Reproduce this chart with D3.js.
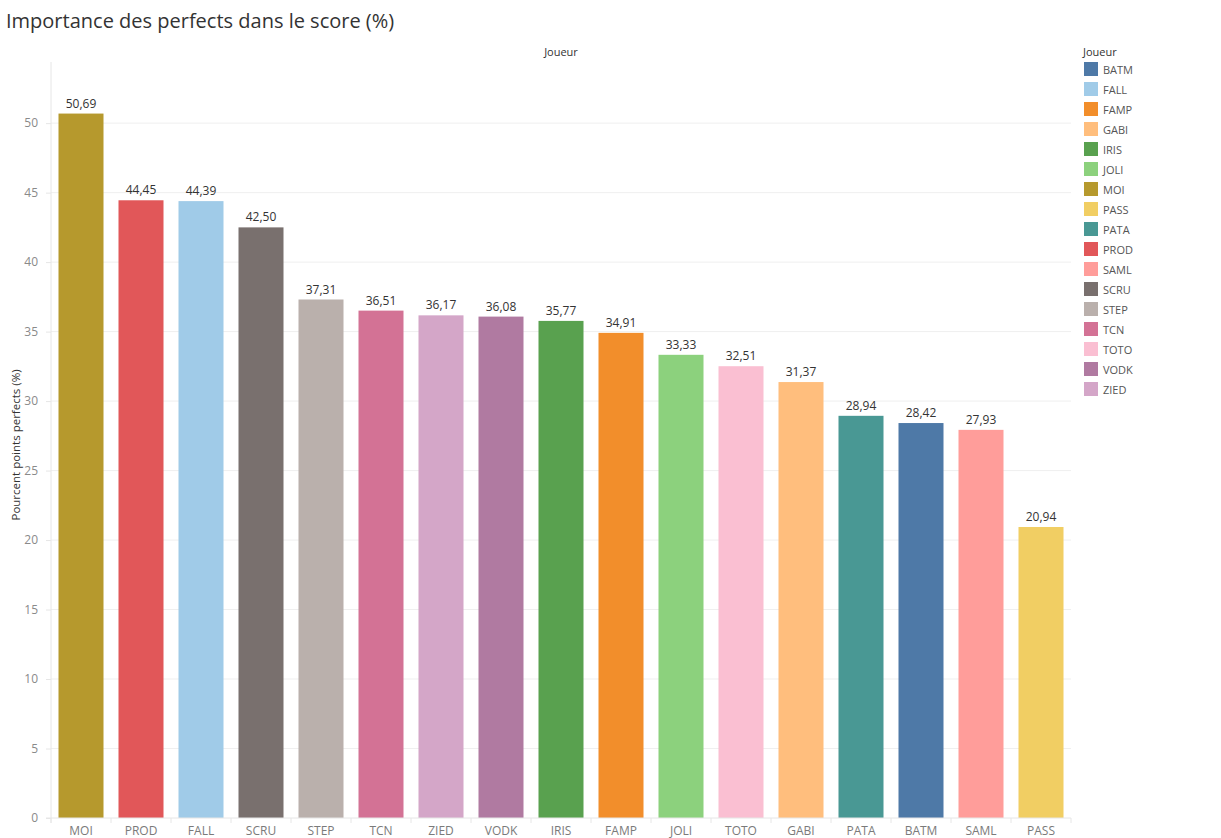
<!DOCTYPE html>
<html>
<head>
<meta charset="utf-8">
<script src="https://cdn.jsdelivr.net/npm/d3@7"></script>
<style>
  body { margin: 0; background: #fff; font-family: "Open Sans", "Noto Sans", sans-serif; }
  svg text { font-family: "Open Sans", "Noto Sans", sans-serif; }
</style>
</head>
<body>
<svg id="chart" width="1221" height="838"></svg>
<script>
// players, sorted as in the chart
const players = ['MOI', 'PROD', 'FALL', 'SCRU', 'STEP', 'TCN', 'ZIED', 'VODK', 'IRIS',
  'FAMP', 'JOLI', 'TOTO', 'GABI', 'PATA', 'BATM', 'SAML', 'PASS'];
const values = [50.69, 44.45, 44.39, 42.50, 37.31, 36.51, 36.17, 36.08, 35.77,
  34.91, 33.33, 32.51, 31.37, 28.94, 28.42, 27.93, 20.94];
const legendNames = ['BATM', 'FALL', 'FAMP', 'GABI', 'IRIS', 'JOLI', 'MOI', 'PASS', 'PATA',
  'PROD', 'SAML', 'SCRU', 'STEP', 'TCN', 'TOTO', 'VODK', 'ZIED'];
const legendColors = ['#4e79a7', '#a0cbe8', '#f28e2b', '#ffbe7d', '#59a14f', '#8cd17d', '#b6992d',
  '#f1ce63', '#499894', '#e15759', '#ff9d9a', '#79706e', '#bab0ac', '#d37295', '#fabfd2',
  '#b07aa1', '#d4a6c8'];
const yTicks = [0, 5, 10, 15, 20, 25, 30, 35, 40, 45, 50];

const data = players.map((p, i) => ({ player: p, value: values[i] }));

const svg = d3.select('#chart');
const margin = { left: 51, right: 150, top: 62, bottom: 20 };
const width = 1221, height = 838;
const x0 = margin.left, x1 = width - margin.right, y0 = height - margin.bottom, y1 = margin.top;

const color = d3.scaleOrdinal().domain(legendNames).range(legendColors);

const xScale = d3.scaleBand()
  .domain(players)
  .range([x0, x1])
  .paddingInner(0.25)
  .paddingOuter(0.125);

const yScale = d3.scaleLinear()
  .domain([0, 54.4])
  .range([y0, y1]);

const fmt = v => d3.format('.2f')(v).replace('.', ',');

// title
svg.append('text')
  .attr('x', 6).attr('y', 28)
  .attr('font-size', 20)
  .attr('fill', '#333')
  .text('Importance des perfects dans le score (%)');

// column header
svg.append('text')
  .attr('x', (x0 + x1) / 2).attr('y', 56)
  .attr('text-anchor', 'middle')
  .attr('font-size', 11)
  .attr('fill', '#333')
  .text('Joueur');

// gridlines
svg.append('g')
  .selectAll('line')
  .data(yTicks.filter(d => d > 0))
  .join('line')
    .attr('x1', x0).attr('x2', x1)
    .attr('y1', d => yScale(d)).attr('y2', d => yScale(d))
    .attr('stroke', '#efefef');

// y axis
const yAxis = d3.axisLeft(yScale)
  .tickValues(yTicks)
  .tickSize(5)
  .tickPadding(8)
  .tickFormat(d3.format('d'));
const yAxisG = svg.append('g')
  .attr('transform', `translate(${x0},0)`)
  .call(yAxis);
yAxisG.select('.domain').remove();
yAxisG.selectAll('.tick line').attr('stroke', '#e6e6e6');
yAxisG.selectAll('.tick text').attr('fill', '#8a8a8a').attr('font-size', 12)
  .style('font-family', '"Open Sans", sans-serif');
svg.append('line')
  .attr('x1', x0).attr('x2', x0).attr('y1', y1).attr('y2', y0 + 5)
  .attr('stroke', '#e6e6e6');

// y label
svg.append('text')
  .attr('transform', `translate(20,445) rotate(-90)`)
  .attr('text-anchor', 'middle')
  .attr('font-size', 11.5)
  .attr('fill', '#333')
  .text('Pourcent points perfects (%)');

// bars
svg.append('g')
  .selectAll('rect')
  .data(data)
  .join('rect')
    .attr('x', d => xScale(d.player))
    .attr('y', d => yScale(d.value))
    .attr('width', xScale.bandwidth())
    .attr('height', d => yScale(0) - yScale(d.value))
    .attr('fill', d => color(d.player));

// value labels
svg.append('g')
  .selectAll('text')
  .data(data)
  .join('text')
    .attr('x', d => xScale(d.player) + xScale.bandwidth() / 2)
    .attr('y', d => yScale(d.value) - 6)
    .attr('text-anchor', 'middle')
    .attr('font-size', 12)
    .attr('fill', '#333')
    .text(d => fmt(d.value));

// x axis
svg.append('line')
  .attr('x1', x0 - 5).attr('x2', x1).attr('y1', y0).attr('y2', y0)
  .attr('stroke', '#e6e6e6');
const step = xScale.step();
svg.append('g')
  .selectAll('line')
  .data(d3.range(players.length + 1))
  .join('line')
    .attr('x1', i => x0 + i * step).attr('x2', i => x0 + i * step)
    .attr('y1', y0).attr('y2', y0 + 5)
    .attr('stroke', '#e6e6e6');
const xAxis = d3.axisBottom(xScale).tickSize(0).tickPadding(8);
const xAxisG = svg.append('g')
  .attr('transform', `translate(0,${y0})`)
  .call(xAxis);
xAxisG.select('.domain').remove();
xAxisG.selectAll('.tick text').attr('fill', '#7a7a7a').attr('font-size', 12)
  .style('font-family', '"Open Sans", sans-serif');

// legend
const legend = svg.append('g').attr('transform', 'translate(1083,0)');
legend.append('text')
  .attr('x', 0).attr('y', 56)
  .attr('font-size', 11)
  .attr('fill', '#333')
  .text('Joueur');
const items = legend.selectAll('.item')
  .data(legendNames)
  .join('g')
    .attr('class', 'item')
    .attr('transform', (d, i) => `translate(0,${62 + i * 20})`);
items.append('rect')
  .attr('x', 1).attr('y', 0)
  .attr('width', 14).attr('height', 14)
  .attr('fill', d => color(d));
items.append('text')
  .attr('x', 20).attr('y', 11.5)
  .attr('font-size', 11)
  .attr('fill', '#555')
  .text(d => d);
</script>
</body>
</html>
